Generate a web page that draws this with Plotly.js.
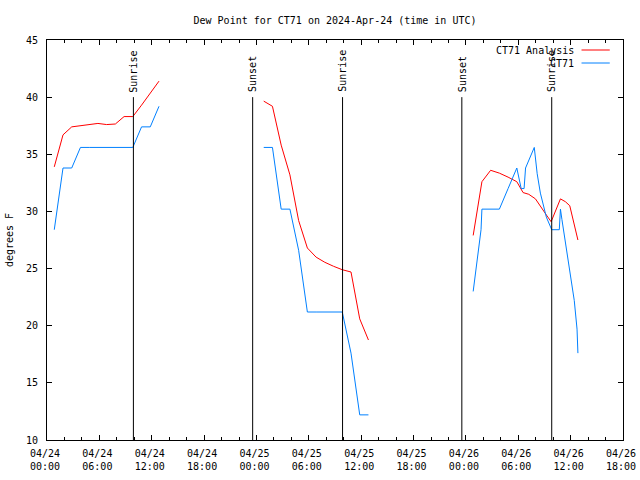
<!DOCTYPE html>
<html>
<head>
<meta charset="utf-8">
<script src="https://cdn.plot.ly/plotly-3.0.1.min.js"></script>
<style>html,body{margin:0;padding:0;background:#fff;} #chart{width:640px;height:480px;}</style>
</head>
<body>
<div id="chart"></div>
<script>
// ---- Data ----
// CT71 Analysis (red)
const analysisTimes = [
  '2024-04-24 00:50','2024-04-24 01:50','2024-04-24 02:50','2024-04-24 03:50','2024-04-24 04:50','2024-04-24 05:50',
  '2024-04-24 06:50','2024-04-24 07:50','2024-04-24 08:50','2024-04-24 09:50','2024-04-24 10:50','2024-04-24 11:50',
  '2024-04-24 12:50','2024-04-24 18:00',
  '2024-04-25 00:50','2024-04-25 01:50','2024-04-25 02:50','2024-04-25 03:50','2024-04-25 04:50','2024-04-25 05:50',
  '2024-04-25 06:50','2024-04-25 07:50','2024-04-25 08:50','2024-04-25 09:50','2024-04-25 10:50','2024-04-25 11:50',
  '2024-04-25 12:50','2024-04-25 18:00',
  '2024-04-26 00:50','2024-04-26 01:50','2024-04-26 02:50','2024-04-26 03:50','2024-04-26 04:50','2024-04-26 05:50',
  '2024-04-26 06:33','2024-04-26 07:12','2024-04-26 07:58','2024-04-26 08:44','2024-04-26 09:18','2024-04-26 09:46',
  '2024-04-26 10:50','2024-04-26 11:24','2024-04-26 11:54','2024-04-26 12:50'
];
const analysisValues = [
  33.9, 36.7, 37.4, 37.5, 37.6, 37.7,
  37.6, 37.65, 38.3, 38.3, 39.3, 40.4,
  41.4, null,
  39.65, 39.2, 35.8, 33.2, 29.2, 26.8,
  26.0, 25.55, 25.2, 24.9, 24.7, 20.6,
  18.75, null,
  27.9, 32.6, 33.6, 33.35, 33.0, 32.6,
  31.65, 31.5, 31.1, 30.3, 29.6, 29.1,
  31.1, 30.85, 30.5, 27.5
];

// CT71 observations (blue)
const obsTimes = [
  '2024-04-24 00:50','2024-04-24 01:50','2024-04-24 02:50','2024-04-24 03:50','2024-04-24 04:50','2024-04-24 05:50',
  '2024-04-24 06:50','2024-04-24 07:50','2024-04-24 08:50','2024-04-24 09:50','2024-04-24 10:50','2024-04-24 11:50',
  '2024-04-24 12:50','2024-04-24 18:00',
  '2024-04-25 00:50','2024-04-25 01:50','2024-04-25 02:50','2024-04-25 03:50','2024-04-25 04:50','2024-04-25 05:50',
  '2024-04-25 06:50','2024-04-25 07:50','2024-04-25 08:50','2024-04-25 09:50','2024-04-25 10:50','2024-04-25 11:50',
  '2024-04-25 12:50','2024-04-25 18:00',
  '2024-04-26 00:50','2024-04-26 01:44','2024-04-26 01:50','2024-04-26 02:50','2024-04-26 03:50','2024-04-26 04:50',
  '2024-04-26 05:50','2024-04-26 06:20','2024-04-26 06:40','2024-04-26 06:50','2024-04-26 07:50','2024-04-26 08:10',
  '2024-04-26 08:32','2024-04-26 09:13','2024-04-26 09:50','2024-04-26 10:42','2024-04-26 10:50','2024-04-26 11:00',
  '2024-04-26 11:35','2024-04-26 11:58','2024-04-26 12:25','2024-04-26 12:44','2024-04-26 12:50'
];
const obsValues = [
  28.4, 33.8, 33.8, 35.6, 35.6, 35.6,
  35.6, 35.6, 35.6, 35.6, 37.4, 37.4,
  39.2, null,
  35.6, 35.6, 30.2, 30.2, 26.6, 21.2,
  21.2, 21.2, 21.2, 21.2, 17.6, 12.2,
  12.2, null,
  23.0, 28.4, 30.2, 30.2, 30.2, 32.0,
  33.8, 32.0, 32.0, 33.8, 35.6, 33.3,
  31.6, 29.5, 28.4, 28.4, 30.2, 29.3,
  26.3, 24.6, 22.2, 19.7, 17.6
];

// Sun events
const sunTimes = ['2024-04-24 09:54','2024-04-24 23:34','2024-04-25 09:52','2024-04-25 23:32','2024-04-26 09:50'];
const sunLabels = ['Sunrise','Sunset','Sunrise','Sunset','Sunrise'];

const seriesNames = ['CT71 Analysis', 'CT71'];
const seriesColors = ['#ff0000', '#0080ff'];

const chartTitle = 'Dew Point for CT71 on 2024-Apr-24 (time in UTC)';
const yTitle = 'degrees F';
const xRange = ['2024-04-24 00:00', '2024-04-26 18:00'];
const yRange = [10, 45];
const sunLineTop = 40;

// ---- Build chart ----
const FONT = 'DejaVu Sans Mono, monospace';

const traces = [
  {x: analysisTimes, y: analysisValues, name: seriesNames[0], type: 'scatter', mode: 'lines',
   line: {color: seriesColors[0], width: 1}, connectgaps: false, showlegend: false},
  {x: obsTimes, y: obsValues, name: seriesNames[1], type: 'scatter', mode: 'lines',
   line: {color: seriesColors[1], width: 1}, connectgaps: false, showlegend: false}
];

const shapes = sunTimes.map(t => ({
  type: 'line', xref: 'x', yref: 'y', x0: t, x1: t, y0: yRange[0], y1: sunLineTop,
  line: {color: '#000', width: 1}
}));

const annotations = sunTimes.map((t, i) => ({
  x: t, y: sunLineTop + 0.25, xref: 'x', yref: 'y', text: sunLabels[i], textangle: -90,
  showarrow: false, xanchor: 'center', yanchor: 'bottom', font: {family: FONT, size: 10, color: '#000'}
}));

// gnuplot-style legend: text right, sample line after it
const legendY = [0.975, 0.9425];
seriesNames.forEach((n, i) => {
  annotations.push({x: 0.918, y: legendY[i], xref: 'paper', yref: 'paper', text: n, showarrow: false,
    xanchor: 'right', yanchor: 'middle', font: {family: FONT, size: 10, color: '#000'}});
  shapes.push({type: 'line', xref: 'paper', yref: 'paper', x0: 0.928, x1: 0.977, y0: legendY[i], y1: legendY[i],
    line: {color: seriesColors[i], width: 1}});
});

const layout = {
  width: 640, height: 480,
  margin: {l: 47, r: 17, t: 40, b: 40},
  paper_bgcolor: '#fff', plot_bgcolor: '#fff',
  font: {family: FONT, size: 10, color: '#000'},
  title: {text: chartTitle, font: {family: FONT, size: 10, color: '#000'},
          x: 0.5, xref: 'paper', y: 1 - 20/480, yref: 'container', yanchor: 'middle'},
  showlegend: false,
  xaxis: {
    type: 'date', range: xRange, tick0: '2024-04-24 00:00', dtick: 6*3600*1000,
    tickformat: '%m/%d<br>%H:%M', ticks: 'inside', ticklen: 5, tickcolor: '#000',
    showline: true, linecolor: '#000', linewidth: 1, mirror: 'ticks', showgrid: false, zeroline: false,
    minor: {dtick: 2*3600*1000, ticks: 'inside', ticklen: 3, tickcolor: '#000', showgrid: false},
    tickfont: {family: FONT, size: 10, color: '#000'}, ticklabelstandoff: 4, ticklabelshift: -2
  },
  yaxis: {
    range: yRange, dtick: 5, tick0: 10, ticks: 'inside', ticklen: 5, tickcolor: '#000',
    showline: true, linecolor: '#000', linewidth: 1, mirror: 'ticks', showgrid: false, zeroline: false,
    tickfont: {family: FONT, size: 10, color: '#000'}, ticklabelstandoff: 6,
    title: {text: yTitle, font: {family: FONT, size: 10, color: '#000'}, standoff: 10}
  },
  shapes: shapes,
  annotations: annotations
};

Plotly.newPlot('chart', traces, layout, {staticPlot: true, displayModeBar: false});
</script>
</body>
</html>
